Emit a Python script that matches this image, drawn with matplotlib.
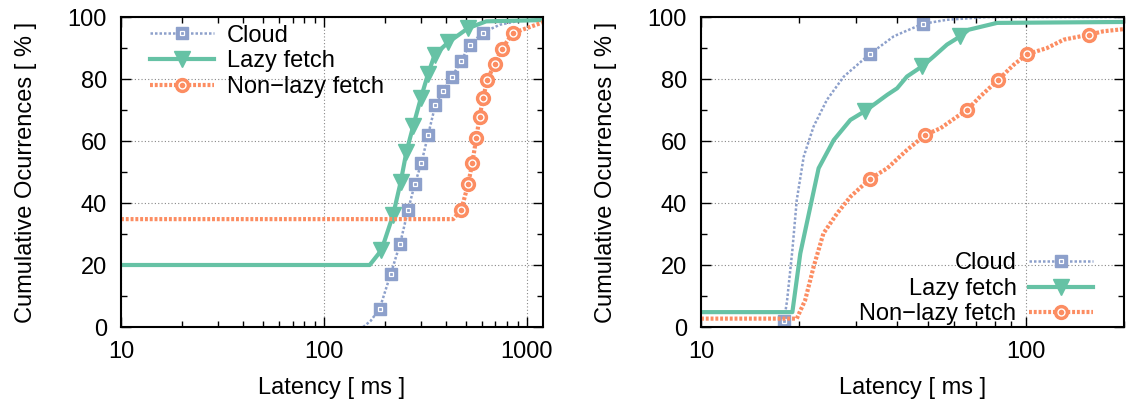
import numpy as np
import matplotlib
matplotlib.use("Agg")
import matplotlib.pyplot as plt
from matplotlib.ticker import LogLocator, MultipleLocator, NullFormatter, FixedLocator
from matplotlib.legend_handler import HandlerTuple

plt.rcParams['font.family'] = ['Liberation Sans', 'DejaVu Sans']
plt.rcParams['font.size'] = 17

# Colors (gnuplot-ish Set2)
C_CLOUD = '#8da0cb'
C_LAZY = '#66c2a5'
C_NONLAZY = '#fc8d62'

labels = ['Cloud', 'Lazy fetch', 'Non\u2212lazy fetch']

# Left panel data (latency ms, cumulative %)
left_cloud_x = [156, 170, 188, 213, 237, 260, 280, 302, 326, 354, 386, 428, 475, 522, 608, 735, 920, 1200]
left_cloud_y = [0, 2, 5.9, 17.0, 26.8, 37.9, 46.0, 52.9, 62.0, 71.7, 76.2, 80.8, 85.9, 91.1, 95.0, 97.5, 98.8, 99.3]
left_cloud_marks = list(range(2, 15))

left_lazy_x = [10, 168, 192, 219, 239, 255, 275, 300, 326, 351, 409, 513, 630, 1200]
left_lazy_y = [20, 20, 24.8, 36.1, 46.9, 56.6, 64.7, 73.8, 81.7, 87.8, 91.8, 96.4, 98.6, 99.0]
left_lazy_marks = list(range(2, 12))

left_nonlazy_x = [10, 433, 475, 513, 538, 563, 585, 608, 638, 694, 754, 853, 1200]
left_nonlazy_y = [34.8, 34.8, 37.9, 46.0, 52.9, 60.9, 67.9, 73.8, 79.7, 84.9, 89.8, 94.8, 98.3]
left_nonlazy_marks = list(range(2, 12))

# Right panel data
right_cloud_x = [17.8, 18.0, 18.4, 19.1, 19.7, 20.7, 22.2, 24.4, 27.5, 33.0, 39.2, 48.1, 57.1, 75.9, 200]
right_cloud_y = [0, 1.9, 8.6, 24.8, 40.9, 55.0, 64.7, 73.3, 80.8, 88.0, 93.8, 97.8, 99.1, 100, 100]
right_cloud_marks = [1, 9, 11]

right_lazy_x = [10, 19.1, 20.2, 23.0, 25.6, 28.8, 32.0, 37.4, 40.1, 43.0, 47.9, 52.0, 57.1, 62.8, 66.6, 72.3, 81.4, 200]
right_lazy_y = [4.8, 4.8, 23.7, 51.2, 60.3, 66.8, 69.7, 74.9, 77.0, 80.8, 84.1, 87.3, 91.1, 93.8, 95.9, 96.8, 98.1, 98.4]
right_lazy_marks = [6, 10, 13]

right_nonlazy_x = [10, 19.7, 20.9, 22.2, 23.8, 26.2, 28.8, 33.0, 37.4, 43.0, 49.0, 54.5, 61.4, 65.8,
                   72.3, 82.0, 91.6, 100.7, 116, 130.6, 156, 173, 200]
right_nonlazy_y = [2.7, 2.7, 8.6, 19.4, 30.2, 36.6, 42.0, 47.7, 51.2, 57.1, 62.0, 64.1, 67.9, 70.0,
                   74.4, 79.7, 84.6, 88.0, 90.0, 92.7, 94.3, 95.4, 96.1]
right_nonlazy_marks = [7, 10, 13, 15, 17, 20]


def draw_series(ax, x, y, marks, kind):
    """Draw one CDF curve with gnuplot-like markers, return legend handle"""
    x = np.asarray(x, dtype=float)
    y = np.asarray(y, dtype=float)
    if kind == 'cloud':
        ln, = ax.plot(x, y, color=C_CLOUD, lw=1.8, ls=(0, (1, 0.8)))
        m1, = ax.plot(x[marks], y[marks], ls='none', marker='s', ms=9, mfc=C_CLOUD, mec=C_CLOUD)
        m2, = ax.plot(x[marks], y[marks], ls='none', marker='s', ms=3.5, mfc='none', mec='white', mew=0.9)
    elif kind == 'lazy':
        ln, = ax.plot(x, y, color=C_LAZY, lw=3)
        m1, = ax.plot(x[marks], y[marks], ls='none', marker='v', ms=11, mfc=C_LAZY, mec=C_LAZY)
        m2 = None
    else:
        ln, = ax.plot(x, y, color=C_NONLAZY, lw=3, ls=(0, (0.7, 0.45)))
        m1, = ax.plot(x[marks], y[marks], ls='none', marker='o', ms=10, mfc=C_NONLAZY, mec=C_NONLAZY)
        m2, = ax.plot(x[marks], y[marks], ls='none', marker='o', ms=5, mfc='none', mec='white', mew=1.0)
    parts = [ln, m1] + ([m2] if m2 is not None else [])
    return tuple(parts)


def style_axes(ax, xmax, xticks):
    ax.set_xscale('log')
    ax.set_xlim(10, xmax)
    ax.set_ylim(0, 100)
    ax.xaxis.set_major_locator(FixedLocator(xticks))
    ax.set_xticklabels([str(t) for t in xticks])
    ax.xaxis.set_minor_locator(LogLocator(base=10, subs=np.arange(2, 10)))
    ax.xaxis.set_minor_formatter(NullFormatter())
    ax.yaxis.set_major_locator(MultipleLocator(20))
    ax.yaxis.set_minor_locator(MultipleLocator(10))
    ax.tick_params(which='both', direction='in', top=True, right=True, width=1.0)
    ax.tick_params(which='major', length=7, pad=10)
    ax.tick_params(which='minor', length=4)
    ax.grid(True, which='major', color='#888888', ls=(0, (1, 2)), lw=0.8)
    for sp in ax.spines.values():
        sp.set_linewidth(1.5)
    ax.set_xlabel('Latency [ ms ]', labelpad=10)
    ax.set_ylabel('Cumulative Ocurrences [ % ]', labelpad=22)


fig = plt.figure(figsize=(11.26, 4.08), dpi=100)
ax1 = fig.add_axes([121 / 1126, 81 / 408, 422 / 1126, 310 / 408])
ax2 = fig.add_axes([701 / 1126, 81 / 408, 423 / 1126, 310 / 408])

h1 = [
    draw_series(ax1, left_cloud_x, left_cloud_y, left_cloud_marks, 'cloud'),
    draw_series(ax1, left_lazy_x, left_lazy_y, left_lazy_marks, 'lazy'),
    draw_series(ax1, left_nonlazy_x, left_nonlazy_y, left_nonlazy_marks, 'nonlazy'),
]
h2 = [
    draw_series(ax2, right_cloud_x, right_cloud_y, right_cloud_marks, 'cloud'),
    draw_series(ax2, right_lazy_x, right_lazy_y, right_lazy_marks, 'lazy'),
    draw_series(ax2, right_nonlazy_x, right_nonlazy_y, right_nonlazy_marks, 'nonlazy'),
]

style_axes(ax1, 1200, [10, 100, 1000])
style_axes(ax2, 200, [10, 100])

hmap = {tuple: HandlerTuple(ndivide=1, pad=0)}
ax1.legend(h1, labels, loc='upper left', bbox_to_anchor=(0.069, 0.975), frameon=False,
           borderpad=0, borderaxespad=0, handlelength=2.7, handletextpad=0.55,
           labelspacing=0.15, fontsize=17, handler_map=hmap)
ax2.legend(h2, labels, loc='lower right', bbox_to_anchor=(0.927, 0.005), frameon=False,
           borderpad=0, borderaxespad=0, handlelength=2.7, handletextpad=0.55,
           labelspacing=0.15, fontsize=17, markerfirst=False, handler_map=hmap)

fig.savefig('out.png', dpi=100)
